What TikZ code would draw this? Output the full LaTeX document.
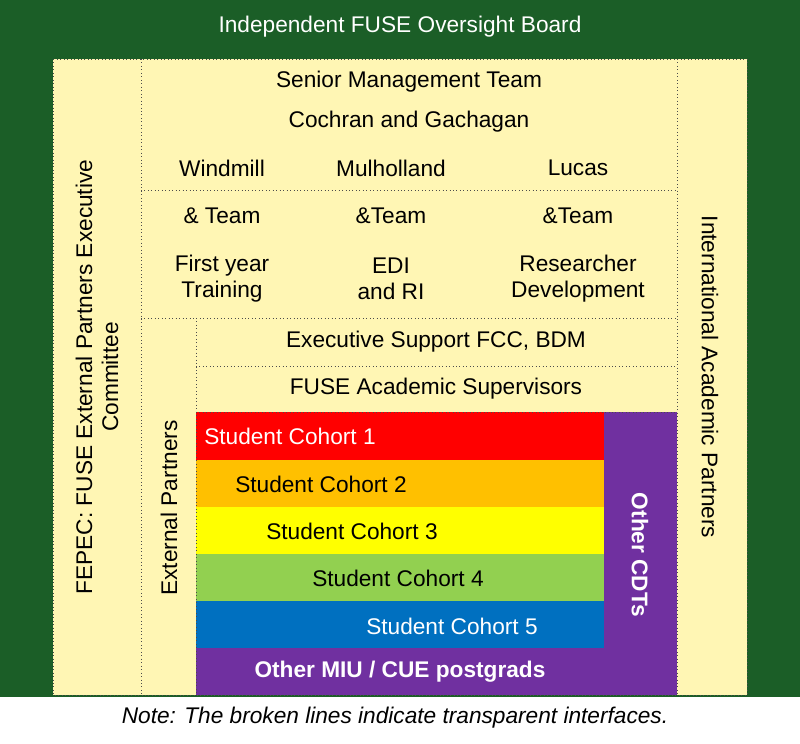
\documentclass[tikz,border=0pt]{standalone}
\usepackage{fontspec}
\setmainfont{Liberation Sans}
\begin{document}
\begin{tikzpicture}[x=0.75pt,y=0.75pt,yscale=-1,xscale=1,
  txt/.style={inner sep=0.75pt, font=\fontsize{17}{19.5}\selectfont, align=center},
  wtxt/.style={txt, text=white},
  btxt/.style={txt, font=\fontsize{17}{19.5}\selectfont\bfseries, text=white},
  sep/.style={draw=black!70, line width=0.6pt, dotted}]
\definecolor{board}{RGB}{27,94,39}
\definecolor{cream}{RGB}{255,246,180}
\definecolor{cred}{RGB}{255,0,0}
\definecolor{corange}{RGB}{255,192,0}
\definecolor{cyellow}{RGB}{255,255,0}
\definecolor{cgreen}{RGB}{146,208,80}
\definecolor{cblue}{RGB}{0,112,192}
\definecolor{cpurple}{RGB}{112,48,160}
\useasboundingbox (0,0) rectangle (800,743);

%Backgrounds
\fill [board] (0,0) rectangle (800,697);
\fill [cream] (53,59) rectangle (747,695);
\fill [cred] (196,412) rectangle (604,460);
\fill [corange] (196,460) rectangle (604,507);
\fill [cyellow] (196,507) rectangle (604,554);
\fill [cgreen] (196,554) rectangle (604,601);
\fill [cblue] (196,601) rectangle (604,648);
\fill [cpurple] (604,412) rectangle (677,648);
\fill [cpurple] (196,648) rectangle (677,695);

%Broken lines
\draw [sep] (53,59) rectangle (747,695);
\draw [sep] (141,59) -- (141,695);
\draw [sep] (677,59) -- (677,695);
\draw [sep] (141,190) -- (677,190);
\draw [sep] (141,318) -- (677,318);
\draw [sep] (196,318) -- (196,695);
\draw [sep] (196,366) -- (677,366);
\draw [sep] (196,412) -- (677,412);

% Text Nodes
\node [wtxt] (board) at (400,27) {Independent FUSE Oversight Board};
\node [txt] (smt) at (409,82) {Senior Management Team};
\node [txt] (cg) at (409,122) {Cochran and Gachagan};
\node [txt] (wm) at (222,168) {Windmill};
\node [txt] (mh) at (391,168) {Mulholland};
\node [txt] (lu) at (578,168) {Lucas};
\node [txt] (wt) at (222,216) {\& Team};
\node [txt] (mt) at (391,216) {\&Team};
\node [txt] (lt) at (578,216) {\&Team};
\node [txt] (fy) at (222,279) {First year\\Training};
\node [txt] (edi) at (391,279) {EDI\\and RI};
\node [txt] (rd) at (578,279) {Researcher\\Development};
\node [txt] (es) at (436,342) {Executive Support FCC, BDM};
\node [txt] (fas) at (436,389) {FUSE Academic Supervisors};
\node [wtxt, anchor=west] (c1) at (203,436) {Student Cohort 1};
\node [txt, anchor=west] (c2) at (234,484) {Student Cohort 2};
\node [txt, anchor=west] (c3) at (265,531) {Student Cohort 3};
\node [txt, anchor=west] (c4) at (311,578) {Student Cohort 4};
\node [wtxt, anchor=west] (c5) at (365,626) {Student Cohort 5};
\node [btxt] (miu) at (400,672) {Other MIU / CUE postgrads};
\node [btxt, rotate=-90] (cdt) at (640,555) {Other CDTs};
\node [txt, rotate=90] (fepec) at (97,377) {FEPEC: FUSE External Partners Executive\\Committee};
\node [txt, rotate=90] (ext) at (169,508) {External Partners};
\node [txt, rotate=-90] (iap) at (710,377) {International Academic Partners};
\node [txt, font=\fontsize{17}{19.5}\selectfont\itshape] (note) at (395,718) {Note: The broken lines indicate transparent interfaces.};
\end{tikzpicture}
\end{document}
